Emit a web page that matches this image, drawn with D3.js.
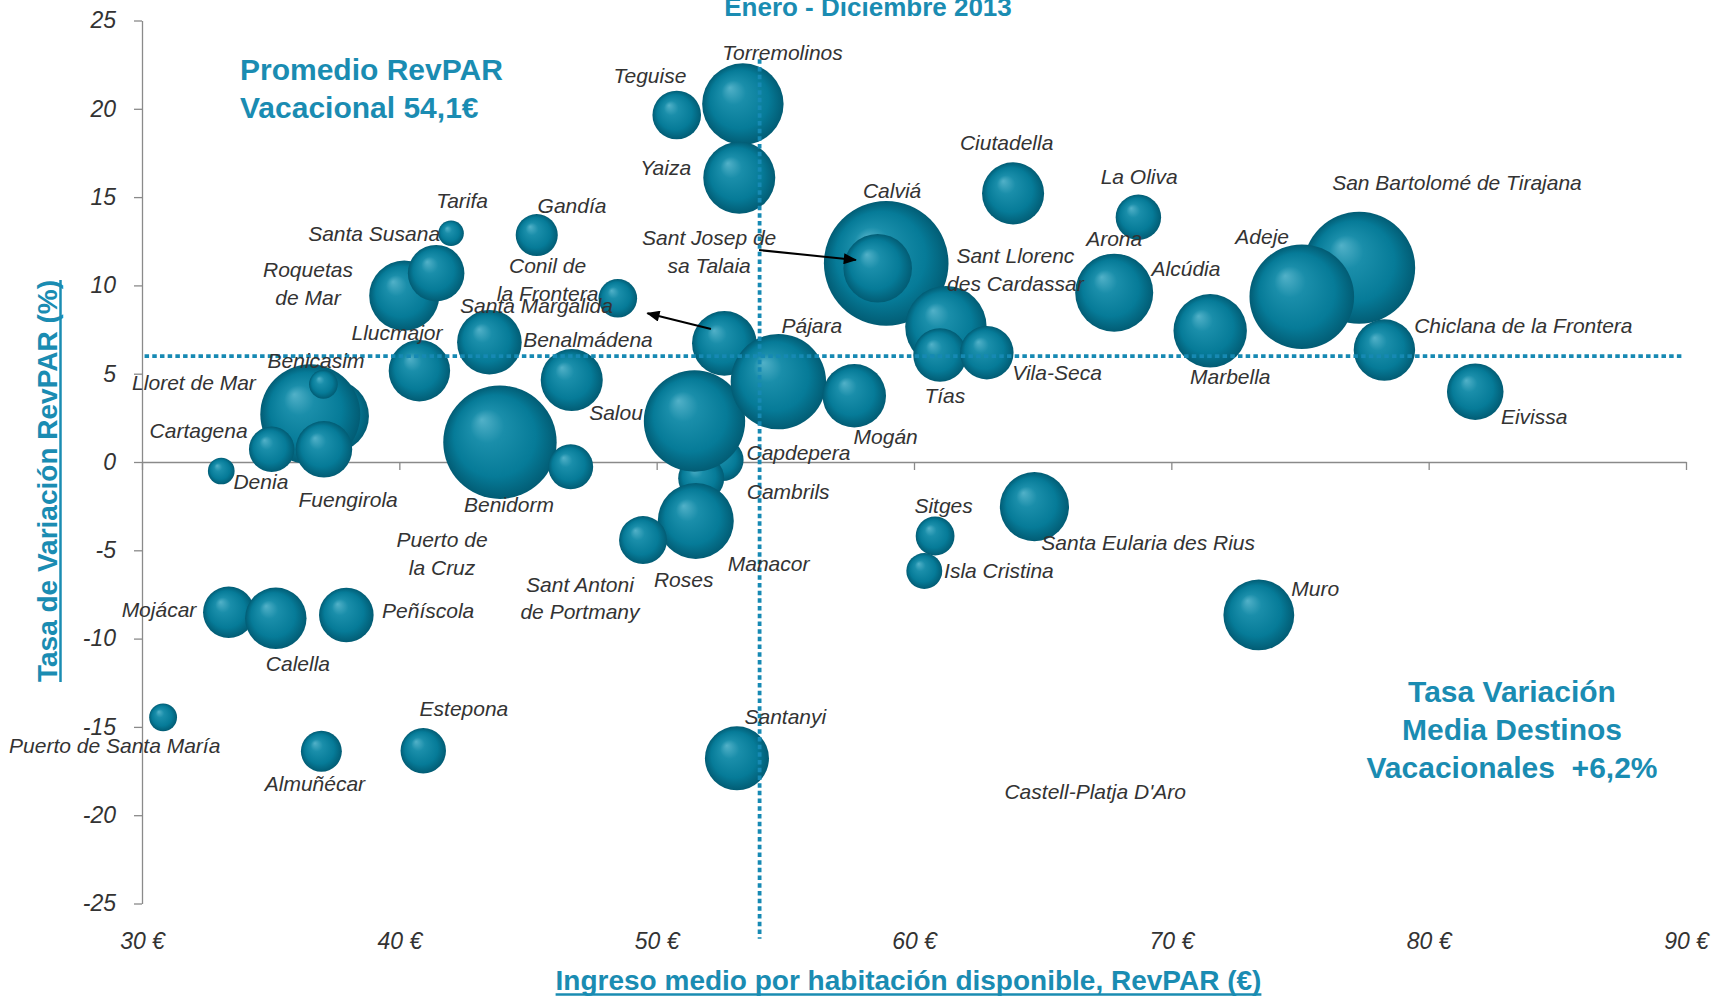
<!DOCTYPE html>
<html lang="es">
<head>
<meta charset="UTF-8">
<title>RevPAR vacacional 2013</title>
<style>
  body { margin: 0; background: #fff; }
  svg { display: block; font-family: "Liberation Sans", Arial, sans-serif; }
  .etiqueta { font-style: italic; font-size: 21px; fill: #333; }
  .eje path, .eje line { stroke: #8a8a8a; stroke-width: 1.3; }
  .eje text { font-style: italic; font-size: 23px; fill: #333; font-family: "Liberation Sans", Arial, sans-serif; }
  .teal { fill: #1a8cb2; font-weight: bold; }
</style>
</head>
<body>
<svg id="chart"></svg>
<script src="https://cdn.jsdelivr.net/npm/d3@7"></script>
<script>
// burbujas, en orden de dibujo (las de delante al final)
var destinos = ["Torremolinos", "Teguise", "Yaiza", "Tarifa", "Gandía", "Roquetas de Mar", "Santa Susana",
  "Conil de la Frontera", "Benalmádena", "Llucmajor", null, null, "Lloret de Mar", "Benicasim", "Cartagena",
  "Fuengirola", "Denia", "Benidorm", null, "Capdepera", "Cambrils", "Salou", "Manacor", "Roses",
  "Santa Margalida", "Pájara", "Mogán", "Calviá", "Sant Josep de sa Talaia", "Sant Llorenc des Cardassar",
  "Tías", "Vila-Seca", "Ciutadella", "La Oliva", "Arona", "Marbella", "San Bartolomé de Tirajana", "Adeje",
  "Chiclana de la Frontera", "Eivissa", "Mojácar", "Calella", "Peñíscola", "Puerto de Santa María",
  "Almuñécar", "Estepona", "Sitges", "Isla Cristina", "Santa Eularia des Rius", "Santanyi", "Muro"];

var revpar = [53.35, 50.78, 53.21, 42.01, 45.34, 40.19, 41.43, 48.49, 43.50, 40.78, 46.70, 37.42, 36.54, 37.05,
  35.04, 37.07, 33.08, 43.91, 46.66, 52.56, 51.73, 51.47, 51.52, 49.47, 52.63, 54.73, 57.68, 58.92, 58.59,
  61.24, 61.01, 62.83, 63.85, 68.72, 67.78, 71.51, 77.30, 75.07, 78.28, 81.81, 33.37, 35.20, 37.94, 30.82,
  36.97, 40.93, 60.82, 60.40, 64.68, 53.12, 73.40];

var variacion = [20.27, 19.65, 16.10, 12.95, 12.85, 9.42, 10.69, 9.27, 6.78, 5.17, 4.64, 2.60, 2.70, 4.40, 0.72,
  0.72, -0.51, 1.12, -0.27, 0.11, -0.92, 2.32, -3.34, -4.42, 6.72, 4.55, 3.75, 11.25, 10.97, 7.66, 6.06,
  6.19, 15.21, 13.86, 9.59, 7.43, 11.00, 9.36, 6.34, 3.98, -8.51, -8.85, -8.66, -14.46, -16.38, -16.35,
  -4.19, -6.17, -2.53, -16.78, -8.66];

var tamano = [42.7, 15.2, 33.4, 4.2, 11.4, 31.6, 20.6, 9.6, 26.9, 24.3, 24.8, 33.4, 64.4, 5.3, 13.3, 20.6, 4.6,
  82.8, 13.0, 11.4, 13.6, 66.2, 37.2, 14.8, 26.9, 58.6, 25.9, 100, 30.3, 42.7, 18.4, 18.4, 24.8, 13.3, 39.2,
  34.7, 80.8, 70.5, 24.3, 20.6, 17.0, 24.3, 19.2, 5.0, 10.8, 13.3, 9.7, 8.3, 30.8, 26.4, 32.3];

// etiquetas de texto (líneas) y dónde caen, en unidades de los ejes
var etiquetas = [["Torremolinos"], ["Teguise"], ["Yaiza"], ["Tarifa"], ["Gandía"], ["Santa Susana"],
  ["Roquetas", "de Mar"], ["Conil de", "la Frontera"], ["Santa Margalida"], ["Benalmádena"], ["Llucmajor"],
  ["Benicasim"], ["Lloret de Mar"], ["Cartagena"], ["Denia"], ["Fuengirola"], ["Benidorm"], ["Salou"],
  ["Sant Josep de", "sa Talaia"], ["Calviá"], ["Pájara"], ["Mogán"], ["Capdepera"], ["Cambrils"],
  ["Manacor"], ["Roses"], ["Sant Antoni", "de Portmany"], ["Puerto de", "la Cruz"], ["Ciutadella"],
  ["La Oliva"], ["Arona"], ["Sant Llorenc", "des Cardassar"], ["Alcúdia"], ["Tías"], ["Vila-Seca"],
  ["Marbella"], ["Adeje"], ["San Bartolomé de Tirajana"], ["Chiclana de la Frontera"], ["Eivissa"],
  ["Sitges"], ["Isla Cristina"], ["Santa Eularia des Rius"], ["Muro"], ["Castell-Platja D'Aro"],
  ["Santanyi"], ["Mojácar"], ["Calella"], ["Peñíscola"], ["Puerto de Santa María"], ["Almuñécar"],
  ["Estepona"]];
var etiquetaX = [54.89, 49.74, 50.35, 42.44, 46.71, 39.02, 36.45, 45.76, 45.33, 47.33, 39.91, 36.76, 32.02,
  32.20, 34.62, 38.01, 44.26, 48.42, 52.04, 59.15, 56.03, 58.90, 55.51, 55.11, 54.35, 51.05, 47.02, 41.66,
  63.60, 68.75, 67.78, 63.94, 70.57, 61.20, 65.56, 72.29, 73.53, 81.10, 83.68, 84.10, 61.15, 63.30, 69.10,
  75.59, 67.04, 55.00, 30.66, 36.06, 41.12, 28.94, 36.72, 42.51];
var etiquetaY = [23.18, 21.86, 16.66, 14.80, 14.51, 12.95, 10.09, 10.33, 8.83, 6.91, 7.32, 5.72, 4.49, 1.77,
  -1.12, -2.15, -2.43, 2.79, 11.92, 15.35, 7.70, 1.43, 0.51, -1.70, -5.78, -6.68, -7.72, -5.20, 18.08,
  16.16, 12.67, 10.89, 10.97, 3.74, 5.06, 4.83, 12.76, 15.82, 7.72, 2.57, -2.47, -6.16, -4.55, -7.15,
  -18.67, -14.42, -8.38, -11.44, -8.42, -16.08, -18.23, -13.95];

// flechas que apuntan de la burbuja a su etiqueta
var flechas = [
  { desde: [52.11, 7.53], hasta: [49.64, 8.42] },
  { desde: [53.98, 12.00], hasta: [57.74, 11.44] }
];

var xTicks = [30, 40, 50, 60, 70, 80, 90];
var yTicks = [-25, -20, -15, -10, -5, 0, 5, 10, 15, 20, 25];

var lineaRevpar = 54.0;      // promedio RevPAR vacacional
var lineaVariacion = 6.0;    // tasa variación media

var W = 1711, H = 997;
var teal = "#1a8cb2";

var svg = d3.select("#chart").attr("width", W).attr("height", H);

var x = d3.scaleLinear().domain([30, 90]).range([142, 1686]);
var y = d3.scaleLinear().domain([-25, 25]).range([903.5, 20.5]);
var r = d3.scaleSqrt().domain([0, 100]).range([0, 62.3]);

var defs = svg.append("defs");
var grad = defs.append("radialGradient")
  .attr("id", "esfera")
  .attr("cx", 0.5).attr("cy", 0.5).attr("r", 0.5)
  .attr("fx", 0.34).attr("fy", 0.3);
grad.append("stop").attr("offset", "0%").attr("stop-color", "#52b1c8");
grad.append("stop").attr("offset", "30%").attr("stop-color", "#1a8eaa");
grad.append("stop").attr("offset", "72%").attr("stop-color", "#067b98");
grad.append("stop").attr("offset", "100%").attr("stop-color", "#025c74");

defs.append("marker")
  .attr("id", "punta")
  .attr("viewBox", "0 0 12 10")
  .attr("refX", 11).attr("refY", 5)
  .attr("markerWidth", 14).attr("markerHeight", 11)
  .attr("markerUnits", "userSpaceOnUse")
  .attr("orient", "auto")
  .append("path").attr("d", "M0,0L12,5L0,10z").attr("fill", "#000");

// ejes
svg.append("g")
  .attr("class", "eje")
  .attr("transform", "translate(0," + y(0) + ")")
  .call(d3.axisBottom(x).tickValues(xTicks).tickSize(8).tickSizeOuter(0).tickFormat(""));

svg.append("g")
  .attr("class", "eje")
  .attr("transform", "translate(0," + y(-25) + ")")
  .call(d3.axisBottom(x).tickValues(xTicks).tickSize(0).tickPadding(29.5)
    .tickFormat(function (d) { return d + " €"; }))
  .call(function (g) { g.select(".domain").remove(); });

svg.append("g")
  .attr("class", "eje")
  .attr("transform", "translate(" + x(30) + ",0)")
  .call(d3.axisLeft(y).tickValues(yTicks).tickSize(8).tickSizeOuter(0).tickPadding(18)
    .tickFormat(function (d) { return String(d); }));

// burbujas
var datos = revpar.map(function (v, i) {
  return { nombre: destinos[i], x: v, y: variacion[i], s: tamano[i] };
});

svg.append("g")
  .selectAll("circle")
  .data(datos)
  .enter().append("circle")
  .attr("cx", function (d) { return x(d.x); })
  .attr("cy", function (d) { return y(d.y); })
  .attr("r", function (d) { return r(d.s); })
  .attr("fill", "url(#esfera)");

// líneas de referencia punteadas
var ref = svg.append("g")
  .attr("stroke", "#1689b3")
  .attr("stroke-width", 3.8)
  .attr("stroke-dasharray", "4.5 3.2");
ref.append("line")
  .attr("x1", x(lineaRevpar)).attr("x2", x(lineaRevpar))
  .attr("y1", y(22.8)).attr("y2", y(-27));
ref.append("line")
  .attr("x1", x(30.1)).attr("x2", x(89.9))
  .attr("y1", y(lineaVariacion)).attr("y2", y(lineaVariacion));

// flechas
svg.append("g")
  .selectAll("line")
  .data(flechas)
  .enter().append("line")
  .attr("x1", function (d) { return x(d.desde[0]); })
  .attr("y1", function (d) { return y(d.desde[1]); })
  .attr("x2", function (d) { return x(d.hasta[0]); })
  .attr("y2", function (d) { return y(d.hasta[1]); })
  .attr("stroke", "#000")
  .attr("stroke-width", 2)
  .attr("marker-end", "url(#punta)");

// etiquetas de destinos
var lh = 27.6;
var et = svg.append("g")
  .selectAll("text")
  .data(etiquetas)
  .enter().append("text")
  .attr("class", "etiqueta")
  .attr("text-anchor", "middle")
  .attr("x", function (d, i) { return x(etiquetaX[i]); })
  .attr("y", function (d, i) { return y(etiquetaY[i]) + 7.3 - (d.length - 1) * lh / 2; });
et.selectAll("tspan")
  .data(function (d, i) { return d.map(function (t) { return { t: t, i: i }; }); })
  .enter().append("tspan")
  .attr("x", function (d) { return x(etiquetaX[d.i]); })
  .attr("dy", function (d, j) { return j === 0 ? 0 : lh; })
  .text(function (d) { return d.t; });

// título y textos destacados
svg.append("text")
  .attr("class", "teal")
  .attr("x", 868).attr("y", 15.5)
  .attr("text-anchor", "middle")
  .style("font-size", "26px")
  .text("Enero - Diciembre 2013");

var prom = svg.append("text").attr("class", "teal").style("font-size", "30px");
prom.append("tspan").attr("x", 240).attr("y", 80).text("Promedio RevPAR");
prom.append("tspan").attr("x", 240).attr("y", 117.5).text("Vacacional 54,1€");

var tasa = svg.append("text").attr("class", "teal")
  .attr("text-anchor", "middle")
  .style("font-size", "30px")
  .style("white-space", "pre");
["Tasa Variación", "Media Destinos", "Vacacionales  +6,2%"].forEach(function (t, i) {
  tasa.append("tspan").attr("x", 1512).attr("y", 701.5 + i * 38).text(t);
});

// títulos de ejes subrayados
var tx = svg.append("text").attr("class", "teal")
  .attr("x", 908.5).attr("y", 990)
  .attr("text-anchor", "middle")
  .style("font-size", "28px")
  .text("Ingreso medio por habitación disponible, RevPAR (€)");
var lx = tx.node().getComputedTextLength();
svg.append("line")
  .attr("x1", 908.5 - lx / 2).attr("x2", 908.5 + lx / 2)
  .attr("y1", 994.5).attr("y2", 994.5)
  .attr("stroke", teal).attr("stroke-width", 2.5);

var gy = svg.append("g").attr("transform", "translate(57,481) rotate(-90)");
var ty = gy.append("text").attr("class", "teal")
  .attr("text-anchor", "middle")
  .style("font-size", "28px")
  .text("Tasa de Variación RevPAR (%)");
var ly = ty.node().getComputedTextLength();
gy.append("line")
  .attr("x1", -ly / 2).attr("x2", ly / 2)
  .attr("y1", 3.5).attr("y2", 3.5)
  .attr("stroke", teal).attr("stroke-width", 2.5);
</script>
</body>
</html>
